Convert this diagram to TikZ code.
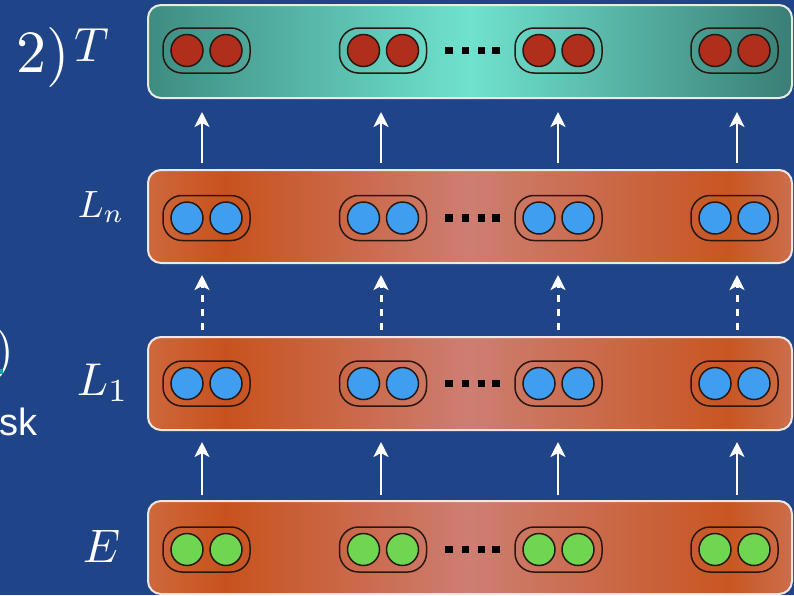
\documentclass[tikz,border=0pt]{standalone}
\usepackage{fontspec}
\newfontfamily\sansf{Liberation Sans}
\usetikzlibrary{arrows.meta}
\definecolor{bg}{RGB}{31,68,135}
\definecolor{boxedge}{RGB}{236,232,226}
\definecolor{capedge}{RGB}{40,24,16}
\definecolor{redu}{RGB}{176,46,28}
\definecolor{blueu}{RGB}{64,158,240}
\definecolor{greenu}{RGB}{110,214,80}
\definecolor{tealA}{RGB}{62,140,130}
\definecolor{tealB}{RGB}{112,226,206}
\definecolor{tealC}{RGB}{58,126,118}
\definecolor{orA}{RGB}{206,104,60}
\definecolor{orB}{RGB}{200,82,30}
\definecolor{orC}{RGB}{205,126,114}
\definecolor{orD}{RGB}{200,86,34}
\definecolor{orE}{RGB}{204,110,76}
\definecolor{tealbit}{RGB}{30,160,160}
\pgfdeclarehorizontalshading{tealsh}{100bp}{color(0bp)=(tealA); color(25bp)=(tealA); color(50bp)=(tealB); color(75bp)=(tealC); color(100bp)=(tealC)}
\pgfdeclarehorizontalshading{orsh}{100bp}{color(0bp)=(orA); color(25bp)=(orA); color(31bp)=(orB); color(50bp)=(orC); color(70bp)=(orD); color(75bp)=(orE); color(100bp)=(orE)}
\tikzset{
 layerbox/.style={draw=boxedge, line width=2pt, rounded corners=13pt, minimum width=644pt, minimum height=93pt, inner sep=0pt},
 capsule/.style={draw=capedge, line width=1.5pt, rounded corners=19pt, minimum width=87pt, minimum height=45pt, inner sep=0pt},
 unitc/.style={circle, draw=capedge, line width=1.5pt, minimum size=32pt, inner sep=0pt},
 uparrow/.style={draw=white, line width=2.5pt, -{Stealth[length=15pt,width=15pt,inset=4pt]}},
 dasharrow/.style={uparrow, line width=3pt, dash pattern=on 7pt off 7pt},
 dotsq/.style={fill=black, minimum size=7.5pt, inner sep=0pt},
 lbl/.style={text=white, inner sep=0pt},
}
\begin{document}
\begin{tikzpicture}[x=1pt,y=-1pt]
\useasboundingbox (0,0) rectangle (794,595);
\fill[bg] (0,0) rectangle (794,595);
% layer boxes
\node[layerbox, shade, shading=tealsh] (T) at (470,51.5) {};
\node[layerbox, shade, shading=orsh] (Ln) at (470,216.5) {};
\node[layerbox, shade, shading=orsh] (L1) at (470,383.5) {};
\node[layerbox, shade, shading=orsh] (E) at (470,547.5) {};
% capsules
\foreach \r/\y/\c in {T/50.5/redu, Ln/218/blueu, L1/383.5/blueu, E/549.5/greenu}{
  \foreach \i/\x in {1/206.5, 2/383, 3/558.5, 4/734.5}{
    \node[capsule] (\r-c\i) at (\x,\y) {};
    \node[unitc, fill=\c] (\r-c\i-a) at (\x-19.5,\y) {};
    \node[unitc, fill=\c] (\r-c\i-b) at (\x+19.5,\y) {};
  }
  \foreach \j/\x in {1/449, 2/465.5, 3/481.5, 4/496}{
    \node[dotsq] (\r-d\j) at (\x,\y) {};
  }
}
% arrows
\foreach \i/\x in {1/202, 2/381, 3/558, 4/737}{
  \coordinate (a1b\i) at (\x,163);
  \coordinate (a1t\i) at (\x,112);
  \coordinate (a2b\i) at (\x,330);
  \coordinate (a2t\i) at (\x,275);
  \coordinate (a3b\i) at (\x,495);
  \coordinate (a3t\i) at (\x,442);
  \draw[uparrow] (a1b\i) -- (a1t\i);
  \draw[dasharrow] (a2b\i) -- (a2t\i);
  \draw[uparrow] (a3b\i) -- (a3t\i);
}
% labels
\node[lbl, anchor=base west, scale=6.0] (lT) at (15,72) {$2)$};
\node[lbl, anchor=base west, scale=4.8] (lTsup) at (74,61) {$T$};
\node[lbl, anchor=base west, scale=3.8] (lLn) at (77,217) {$L_n$};
\node[lbl, anchor=base west, scale=4.6] (lL1) at (76,395) {$L_1$};
\node[lbl, anchor=base west, scale=4.7] (lE) at (82,562) {$E$};
% cut-off texts at the left edge
\node[lbl, anchor=base east, scale=5.1] (lpar) at (15,366) {)};
\fill[tealbit] (0,369) rectangle (3,374);
\node[lbl, anchor=base east, scale=3.8] (lsk) at (38,435) {\sansf sk};
\end{tikzpicture}
\end{document}
